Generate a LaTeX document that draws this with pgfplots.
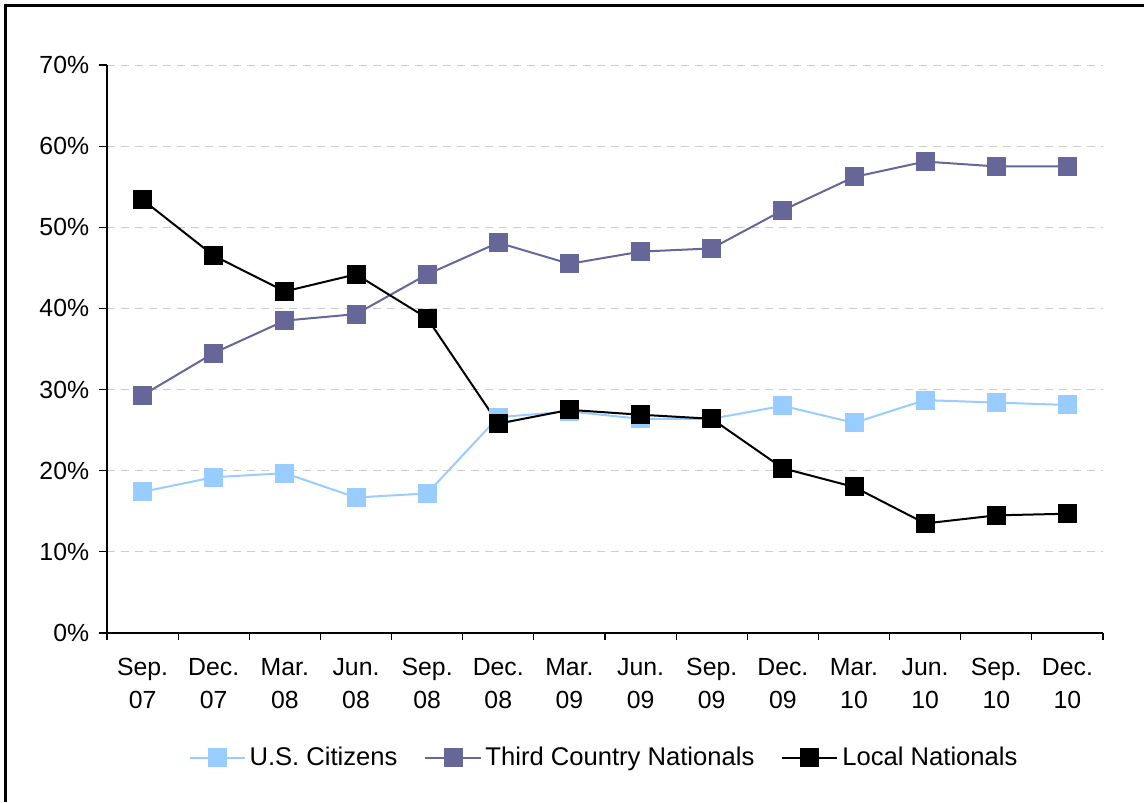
\documentclass[border=0pt]{standalone}
\usepackage{pgfplots}
\pgfplotsset{compat=1.18}
\usepackage{fontspec}
\setmainfont{Liberation Sans}
\definecolor{uscol}{HTML}{99CCFF}
\definecolor{tcncol}{HTML}{666699}
\begin{document}
\begin{tikzpicture}
\useasboundingbox (0pt,0pt) rectangle (572pt,401pt);
\draw[line width=1.4pt] (2.75pt,0pt) -- (2.75pt,398.25pt) -- (572pt,398.25pt);
\begin{axis}[
    at={(53.5pt,84.5pt)}, anchor=south west,
    scale only axis,
    width=498pt, height=284pt,
    xmin=-0.5, xmax=13.5,
    ymin=0, ymax=70,
    axis x line*=bottom, axis y line*=left,
    axis line style={black, line width=0.6pt},
    tick align=outside,
    major tick length=4pt,
    minor tick length=3.5pt,
    tick style={black, line width=0.6pt},
    major x tick style={draw=none},
    xtick={0,...,13},
    minor xtick={-0.5,0.5,...,13.5},
    xticklabels={{Sep.\\07},{Dec.\\07},{Mar.\\08},{Jun.\\08},{Sep.\\08},{Dec.\\08},{Mar.\\09},
                 {Jun.\\09},{Sep.\\09},{Dec.\\09},{Mar.\\10},{Jun.\\10},{Sep.\\10},{Dec.\\10}},
    xticklabel style={align=center, font=\fontsize{12.4}{16.5}\selectfont, yshift=-5pt},
    ytick={0,10,...,70},
    yticklabel={\pgfmathprintnumber{\tick}\%},
    yticklabel style={font=\fontsize{12.4}{15}\selectfont, xshift=-1.4pt},
    /pgf/number format/assume math mode=true,
    ymajorgrids=true,
    grid style={gray!40, dash pattern=on 4pt off 3pt, line width=0.5pt},
    legend columns=3,
    legend style={at={(0.5,-0.22)}, anchor=center, draw=none,
                  font=\fontsize{12.8}{15}\selectfont,
                  /tikz/every even column/.append style={column sep=11.5pt}},
    legend image code/.code={\draw[mark repeat=2, mark phase=2, #1]
        plot coordinates {(0pt,0pt) (13.75pt,0pt) (27.5pt,0pt)};},
]

% U.S. Citizens
\addplot[uscol, line width=1pt, mark=square*, mark size=4.25pt] coordinates {
    (0,17.4) (1,19.2) (2,19.7) (3,16.7) (4,17.2) (5,26.6) (6,27.3)
    (7,26.4) (8,26.4) (9,28.0) (10,25.9) (11,28.7) (12,28.4) (13,28.1)
};
\addlegendentry{U.S. Citizens}

% Third Country Nationals
\addplot[tcncol, line width=1pt, mark=square*, mark size=4.25pt] coordinates {
    (0,29.3) (1,34.5) (2,38.5) (3,39.3) (4,44.2) (5,48.1) (6,45.5)
    (7,47.0) (8,47.4) (9,52.1) (10,56.2) (11,58.1) (12,57.5) (13,57.5)
};
\addlegendentry{Third Country Nationals}

% Local Nationals
\addplot[black, line width=1pt, mark=square*, mark size=4.25pt] coordinates {
    (0,53.4) (1,46.5) (2,42.1) (3,44.2) (4,38.8) (5,25.8) (6,27.5)
    (7,26.9) (8,26.4) (9,20.3) (10,18.0) (11,13.5) (12,14.5) (13,14.7)
};
\addlegendentry{Local Nationals}

\end{axis}
\end{tikzpicture}
\end{document}
